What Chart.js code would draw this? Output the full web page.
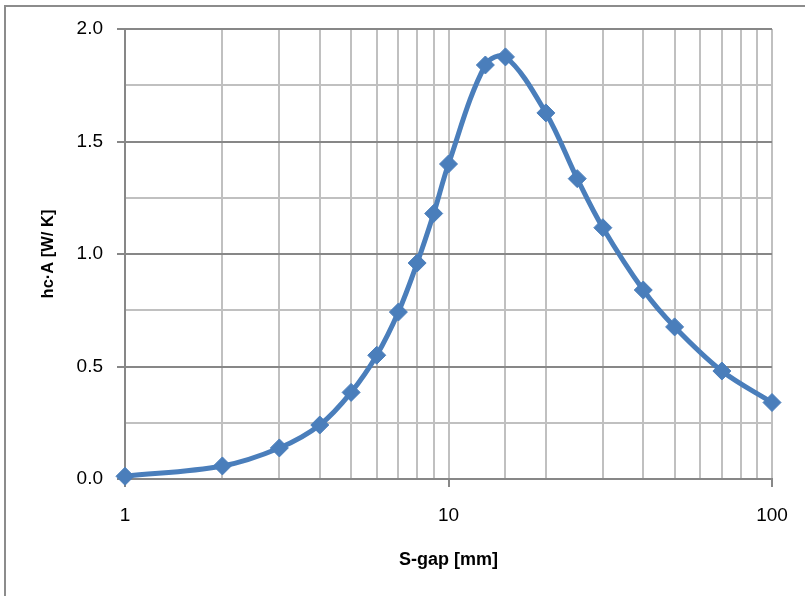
<!DOCTYPE html>
<html lang="en">
<head>
  <meta charset="UTF-8" />
  <title>hc·A vs S-gap</title>
  <script src="https://cdn.jsdelivr.net/npm/chart.js"></script>
  <style>
    html, body { margin: 0; padding: 0; background: #fff; overflow: hidden; }
    .frame {
      position: absolute; left: 4px; top: 5px; width: 900px; height: 700px;
      border-left: 2px solid #8c8c8c; border-top: 2px solid #8c8c8c;
      pointer-events: none;
    }
    canvas { position: absolute; left: 0; top: 0; }
  </style>
</head>
<body>
  <canvas id="chart" width="805" height="596"></canvas>
  <div class="frame"></div>

  <script>
    // S-gap [mm] and hc·A [W/K]
    const sGap = [1, 2, 3, 4, 5, 6, 7, 8, 9, 10, 13, 15, 20, 25, 30, 40, 50, 70, 100];
    const hcA = [0.012, 0.058, 0.138, 0.24, 0.385, 0.55, 0.742, 0.96, 1.18, 1.40,
                 1.84, 1.876, 1.627, 1.335, 1.117, 0.84, 0.676, 0.48, 0.34];
    const xLabels = [1, 10, 100];
    const yLabels = [0, 0.5, 1.0, 1.5, 2.0];

    const dark = '#878787';
    const light = '#c0c0c0';
    const blue = '#4a7ebb';

    const isMajorY = v => yLabels.some(l => Math.abs(l - v) < 1e-9);
    const isMajorX = v => xLabels.includes(v);

    const ctx = document.getElementById('chart').getContext('2d');
    new Chart(ctx, {
      type: 'line',
      data: {
        datasets: [{
          data: sGap.map((x, i) => ({ x: x, y: hcA[i] })),
          borderColor: blue,
          backgroundColor: blue,
          borderWidth: 5,
          tension: 0.35,
          pointStyle: 'rectRot',
          pointRadius: 9,
          pointBorderWidth: 1,
          pointBackgroundColor: blue,
          pointBorderColor: blue,
          clip: false
        }]
      },
      options: {
        responsive: false,
        animation: false,
        layout: { padding: { left: 0, top: 29, right: 33, bottom: 0 } },
        plugins: { legend: { display: false }, tooltip: { enabled: false } },
        scales: {
          x: {
            type: 'logarithmic',
            min: 1,
            max: 100,
            afterFit: s => { s.height = 117; },
            border: { display: true, color: dark, width: 2 },
            grid: {
              color: light,
              lineWidth: 2,
              tickLength: 8,
              tickColor: c => isMajorX(c.tick && c.tick.value) ? dark : 'rgba(0,0,0,0)'
            },
            ticks: {
              autoSkip: false,
              maxRotation: 0,
              padding: 17,
              color: '#000',
              font: { family: 'Liberation Sans, Arial, sans-serif', size: 19 },
              callback: v => isMajorX(v) ? String(v) : ''
            },
            title: {
              display: true,
              text: 'S-gap [mm]',
              color: '#000',
              font: { family: 'Liberation Sans, Arial, sans-serif', size: 18, weight: 'bold' },
              padding: { top: 0, bottom: 25 }
            }
          },
          y: {
            min: 0,
            max: 2,
            afterFit: s => { s.width = 125; },
            border: { display: true, color: dark, width: 2 },
            grid: {
              color: c => isMajorY(c.tick.value) ? dark : light,
              lineWidth: 2,
              tickLength: 8,
              tickColor: c => isMajorY(c.tick.value) ? dark : 'rgba(0,0,0,0)'
            },
            ticks: {
              stepSize: 0.25,
              padding: 14,
              color: '#000',
              font: { family: 'Liberation Sans, Arial, sans-serif', size: 19 },
              callback: v => isMajorY(v) ? v.toFixed(1) : ''
            },
            title: {
              display: true,
              text: 'hc·A [W/ K]',
              color: '#000',
              font: { family: 'Liberation Sans, Arial, sans-serif', size: 16.5, weight: 'bold' },
              padding: { top: 39, bottom: 0 }
            }
          }
        }
      }
    });
  </script>
</body>
</html>
